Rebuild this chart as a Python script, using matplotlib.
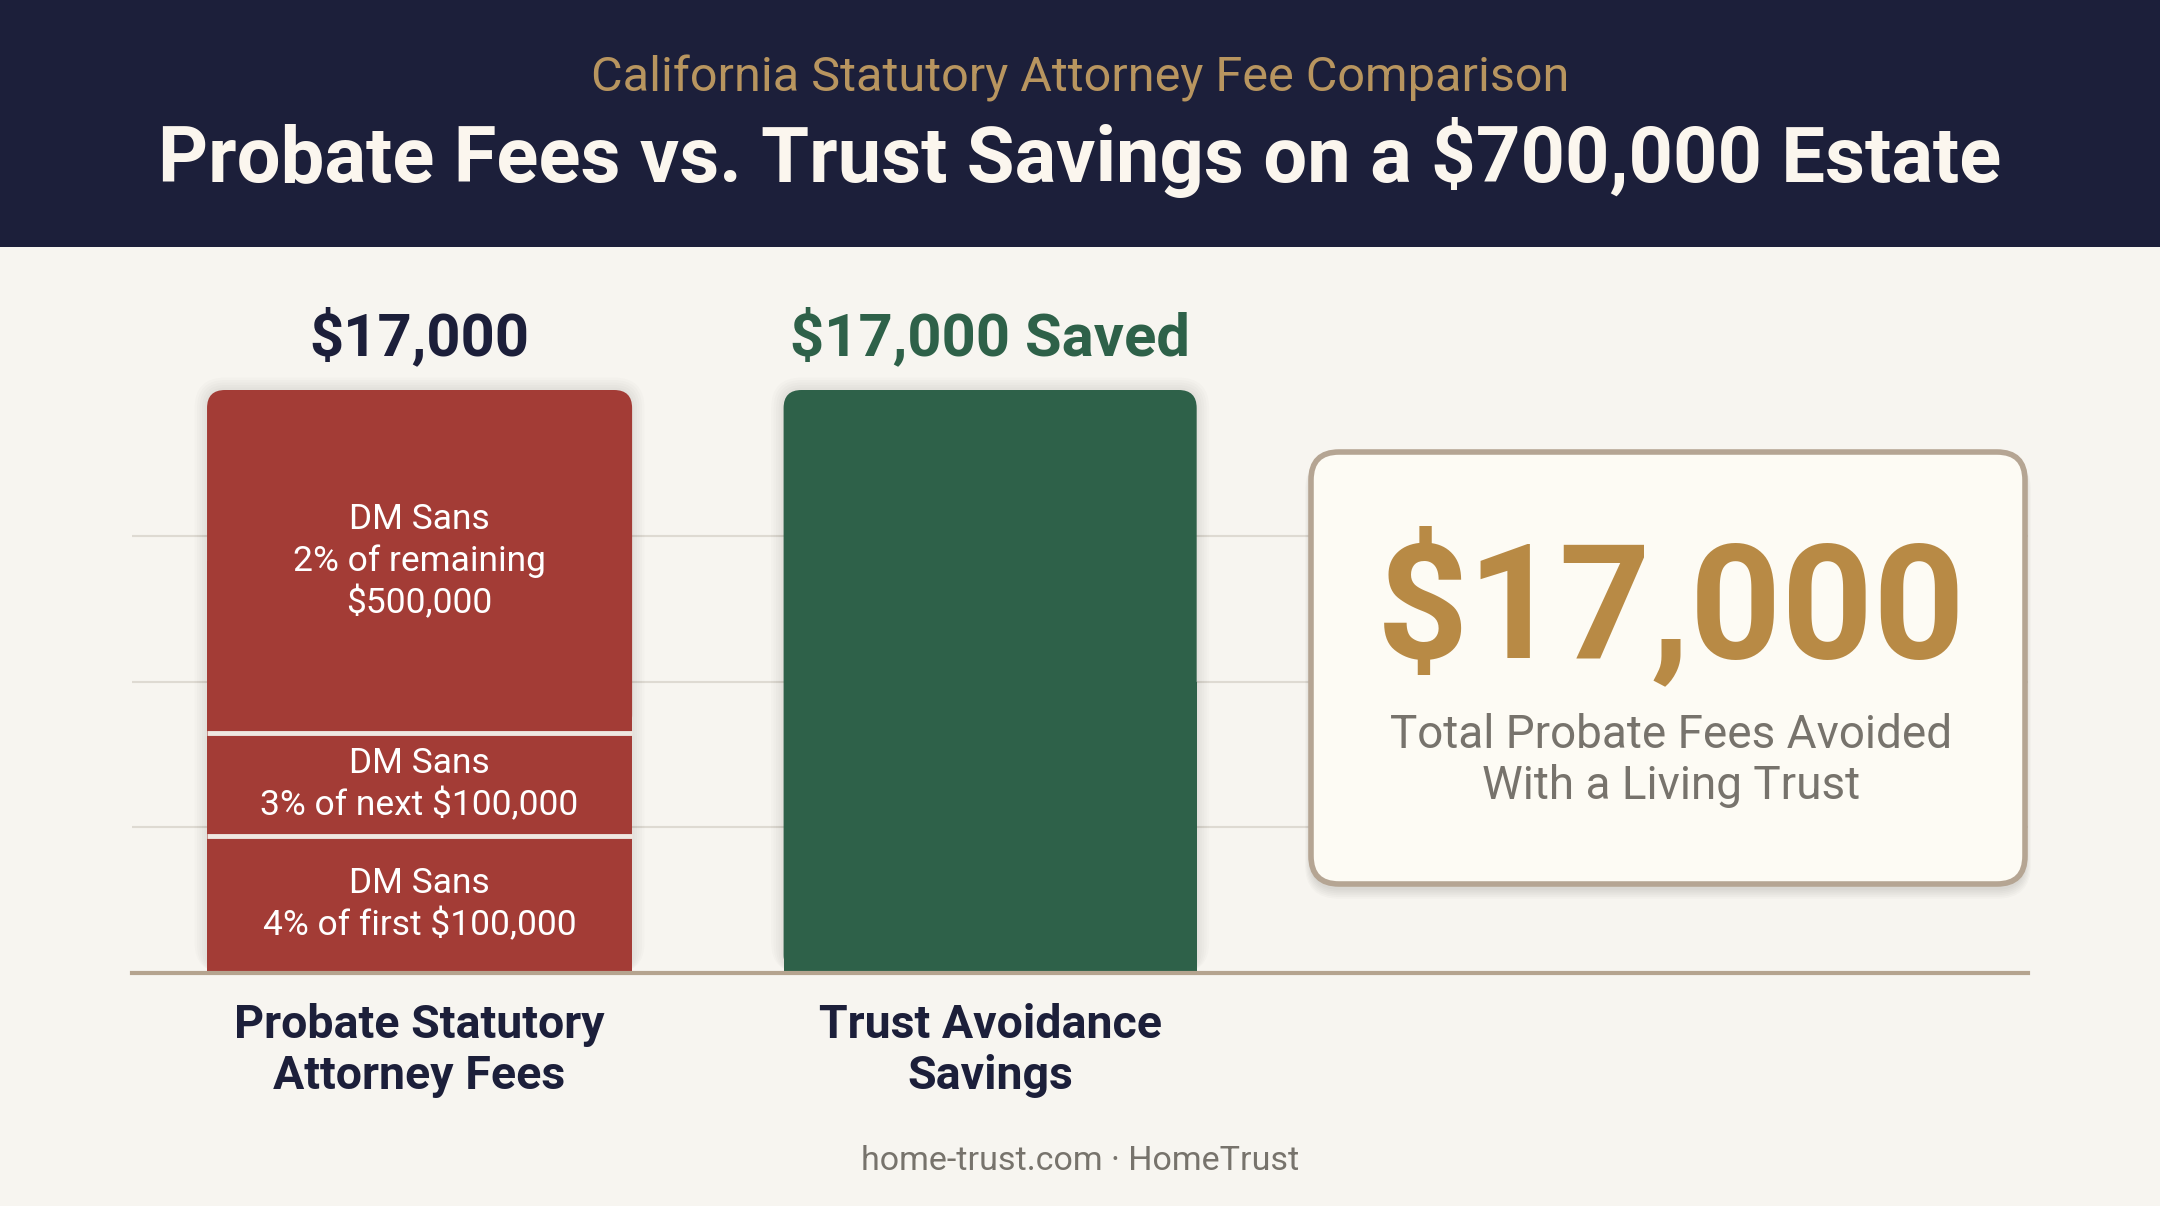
import numpy as np
import matplotlib
matplotlib.use("Agg")
import matplotlib.pyplot as plt
from matplotlib.patches import FancyBboxPatch, Rectangle

# ---- data ----
categories = ["Probate Statutory\nAttorney Fees", "Trust Avoidance\nSavings"]
fee_tiers = ["DM Sans\n4% of first $100,000",
             "DM Sans\n3% of next $100,000",
             "DM Sans\n2% of remaining\n$500,000"]
fee_values = [4000, 3000, 10000]
savings_values = [17000]
value_labels = ["$17,000", "$17,000 Saved"]
headline_value = "$17,000"
headline_text = "Total Probate Fees Avoided\nWith a Living Trust"
subtitle = "California Statutory Attorney Fee Comparison"
title = "Probate Fees vs. Trust Savings on a $700,000 Estate"
footer = "home-trust.com \u00b7 HomeTrust"

# ---- style ----
BG = "#f7f5f0"
NAVY = "#1c1f3a"
GOLD = "#b88a45"
TAN = "#b8955f"
RED = "#a33c36"
GREEN = "#2e6149"
GREY = "#77736c"
FONT = ["Roboto", "DejaVu Sans"]

plt.rcParams["font.family"] = FONT

W, H, DPI = 2160, 1206, 100
fig = plt.figure(figsize=(W / DPI, H / DPI), dpi=DPI, facecolor=BG)

# overlay axes in pixel units for header, callout box and footer
ov = fig.add_axes([0, 0, 1, 1], zorder=5)
ov.set_xlim(0, W)
ov.set_ylim(H, 0)
ov.axis("off")
ov.patch.set_visible(False)

ov.add_patch(Rectangle((0, 0), W, 247, fc=NAVY, ec="none"))
ov.text(W / 2, 78, subtitle, ha="center", va="center", fontsize=35, color=TAN)
ov.text(W / 2, 158, title, ha="center", va="center", fontsize=56,
        fontweight="bold", color="#fbf6ee")

# ---- bar chart ----
ax_left, ax_right, ax_top, ax_base = 132, 2028, 390, 973
ax = fig.add_axes([ax_left / W, (H - ax_base) / H,
                   (ax_right - ax_left) / W, (ax_base - ax_top) / H], zorder=2)
ax.patch.set_visible(False)
ax.set_xlim(-0.504, 2.819)
ax.set_ylim(0, sum(fee_values))
for s in ["top", "left", "right"]:
    ax.spines[s].set_visible(False)
ax.spines["bottom"].set_color("#b5a48f")
ax.spines["bottom"].set_linewidth(3)
ax.spines["bottom"].set_zorder(6)
ax.set_yticks(np.linspace(0, sum(fee_values), 5)[1:4])
ax.set_xticks([])
ax.tick_params(axis="y", length=0, labelleft=False)
ax.grid(axis="y", color="#dedad2", linewidth=1.5)
ax.set_axisbelow(True)

xscale = (ax_right - ax_left) / (ax.get_xlim()[1] - ax.get_xlim()[0])
yscale = (ax_base - ax_top) / (ax.get_ylim()[1] - ax.get_ylim()[0])
R_PX = 18


def bar_shadow(x, w, top):
    """Soft glow behind a whole bar, from the baseline to its top."""
    rx = R_PX / xscale
    ry = R_PX / yscale
    for k in range(1, 6):
        pad = k * 2.5
        ax.add_patch(FancyBboxPatch((x - pad / xscale, 0), w + 2 * pad / xscale, top + pad / yscale,
                                    boxstyle=f"round,pad=0,rounding_size={rx + pad / xscale}",
                                    mutation_aspect=ry / rx, fc="#000000", ec="none",
                                    alpha=0.016, zorder=2, clip_on=False))


def round_top(rect, color):
    """Swap a bar rectangle for one with rounded top corners."""
    x, y, w, h = rect.get_x(), rect.get_y(), rect.get_width(), rect.get_height()
    rect.set_visible(False)
    rx = R_PX / xscale
    ry = R_PX / yscale
    ax.add_patch(FancyBboxPatch((x, y), w, h, boxstyle=f"round,pad=0,rounding_size={rx}",
                                mutation_aspect=ry / rx, fc=color, ec="none", zorder=3))
    ax.add_patch(Rectangle((x, y), w, h / 2, fc=color, ec="none", zorder=3))


widths = [0.745, 0.724]
bar_shadow(-widths[0] / 2, widths[0], sum(fee_values))
bar_shadow(1 - widths[1] / 2, widths[1], sum(savings_values))

bottom = 0
for i, (val, lab) in enumerate(zip(fee_values, fee_tiers)):
    bars = ax.bar(0, val, widths[0], bottom=bottom, color=RED, zorder=3)
    if i == len(fee_values) - 1:
        round_top(bars[0], RED)
    ax.text(0, bottom + val / 2, lab, ha="center", va="center", fontsize=25.5,
            color="white", linespacing=1.3, zorder=4)
    bottom += val
    if i < len(fee_values) - 1:
        ax.plot([-widths[0] / 2, widths[0] / 2], [bottom, bottom], color="#efe7e1",
                linewidth=3.5, solid_capstyle="butt", zorder=4)

bars = ax.bar(1, savings_values, widths[1], color=GREEN, zorder=3)
round_top(bars[0], GREEN)

totals = [sum(fee_values), sum(savings_values)]
label_colors = [NAVY, GREEN]
for i in range(2):
    ax.annotate(value_labels[i], xy=(i, totals[i]), xytext=(0, 38),
                textcoords="offset points", ha="center", va="center",
                fontsize=43, fontweight="bold", color=label_colors[i])
    ax.annotate(categories[i], xy=(i, 0), xytext=(0, -56),
                textcoords="offset points", ha="center", va="center",
                fontsize=33.5, fontweight="bold", color=NAVY, linespacing=1.2)

# ---- callout box ----
bx0, by0, bx1, by1 = 1311, 452, 2025, 884
for k in range(1, 7):
    ov.add_patch(FancyBboxPatch((bx0 - k, by0 + 4), bx1 - bx0 + 2 * k, by1 - by0 + k * 1.8,
                                boxstyle=f"round,pad=0,rounding_size={28 + k}",
                                fc="#000000", ec="none", alpha=0.02))
ov.add_patch(FancyBboxPatch((bx0, by0), bx1 - bx0, by1 - by0,
                            boxstyle="round,pad=0,rounding_size=28",
                            fc="#fdfbf4", ec="#b5a593", linewidth=4))
ov.text((bx0 + bx1) / 2 + 3, 609, headline_value, ha="center", va="center",
        fontsize=115, fontweight="bold", color=GOLD)
ov.text((bx0 + bx1) / 2 + 3, 760, headline_text, ha="center", va="center",
        fontsize=33, color=GREY, linespacing=1.2)

ov.text(W / 2, 1161, footer, ha="center", va="center", fontsize=24.5, color=GREY)

fig.savefig("out.png", dpi=DPI, facecolor=BG)
